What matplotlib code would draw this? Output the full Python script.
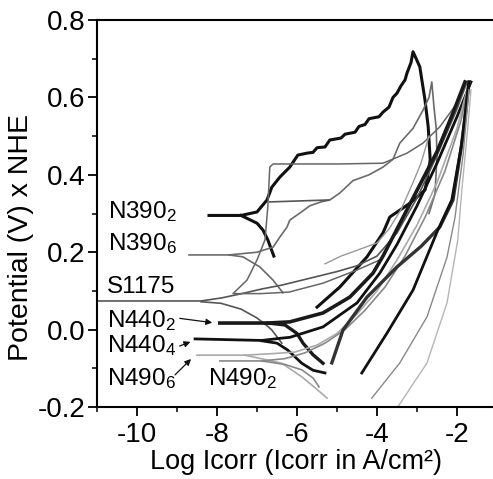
import matplotlib
matplotlib.use("Agg")
import matplotlib.pyplot as plt
from matplotlib.ticker import MultipleLocator

plt.rcParams["font.family"] = ["Liberation Sans", "DejaVu Sans"]
plt.rcParams["mathtext.fontset"] = "custom"
plt.rcParams["mathtext.rm"] = "Liberation Sans"
plt.rcParams["mathtext.it"] = "Liberation Sans:italic"

# --- curve data (log Icorr, potential V) ---
n390_2_x = [-8.2, -7.4, -7.0, -6.75, -6.63, -6.43, -6.18, -5.98, -5.75, -5.6, -5.5, -5.3,
            -5.18, -4.9, -4.8, -4.55, -4.45, -4.3, -4.2, -3.95, -3.85, -3.7, -3.6, -3.5,
            -3.4, -3.3, -3.25, -3.15, -3.1, -3.02, -2.93, -2.8, -2.72, -2.67, -2.75, -2.8,
            -3.17, -3.68, -3.85, -4.25, -4.93, -5.5]
n390_2_y = [0.295, 0.295, 0.304, 0.335, 0.368, 0.394, 0.42, 0.451, 0.456, 0.458, 0.47, 0.472,
            0.49, 0.495, 0.505, 0.51, 0.525, 0.53, 0.545, 0.55, 0.562, 0.575, 0.60, 0.611,
            0.63, 0.645, 0.663, 0.69, 0.718, 0.70, 0.679, 0.593, 0.524, 0.438, 0.387, 0.361,
            0.327, 0.291, 0.25, 0.188, 0.11, 0.058]
n390_2_cx = [-7.4, -7.0, -6.85, -6.73, -6.58]
n390_2_cy = [0.295, 0.275, 0.257, 0.232, 0.19]

n390_6_x = [-8.7, -7.7, -7.0, -6.6, -6.43, -6.25, -6.18, -5.93, -5.68, -5.4, -5.18, -4.93,
            -4.6, -4.2, -3.85, -3.6, -3.43, -3.1, -2.85, -2.7, -2.63, -2.58, -2.52, -2.5,
            -2.55, -2.7]
n390_6_y = [0.193, 0.193, 0.20, 0.213, 0.239, 0.265, 0.283, 0.301, 0.32, 0.33, 0.335, 0.353,
            0.385, 0.40, 0.42, 0.44, 0.482, 0.52, 0.567, 0.60, 0.64, 0.58, 0.52, 0.45,
            0.35, 0.30]
n390_6_cx = [-7.7, -7.35, -6.93, -6.6, -6.35]
n390_6_cy = [0.193, 0.188, 0.162, 0.128, 0.095]
step_x = [-6.68, -5.2]
step_y = [0.33, 0.335]

s1175_x = [-11.0, -8.4, -7.88, -7.38, -6.88, -6.38, -5.55, -5.0, -4.5, -4.0, -3.5, -3.0,
           -2.5, -2.0, -1.75]
s1175_y = [0.074, 0.074, 0.082, 0.093, 0.105, 0.115, 0.136, 0.15, 0.165, 0.19, 0.25, 0.34,
           0.45, 0.57, 0.64]
s1175_cx = [-8.4, -7.9, -7.4, -7.0, -6.75, -6.63, -6.38]
s1175_cy = [0.072, 0.068, 0.053, 0.03, 0.01, -0.001, -0.035]

jump_x = [-3.93, -4.5, -5.35, -6.2, -6.9, -7.6, -7.25, -7.0, -6.8, -6.73, -6.68, -6.6,
          -5.0, -3.85, -3.25, -2.85, -2.43, -2.0, -1.75]
jump_y = [0.18, 0.154, 0.12, 0.097, 0.093, 0.093, 0.128, 0.18, 0.232, 0.317, 0.42, 0.428,
          0.428, 0.43, 0.456, 0.482, 0.524, 0.585, 0.637]

n440_2_x = [-7.93, -6.73, -6.18, -5.35, -4.68, -4.1, -3.85, -3.4, -3.0, -2.5, -2.1, -1.8]
n440_2_y = [0.017, 0.017, 0.02, 0.043, 0.084, 0.146, 0.19, 0.28, 0.36, 0.46, 0.56, 0.64]
n440_2_cx = [-6.73, -6.3, -6.0, -5.85, -5.6, -5.35]
n440_2_cy = [0.017, 0.012, -0.01, -0.035, -0.065, -0.087]

n440_4_x = [-8.55, -6.88, -6.38, -6.18, -5.35, -4.5, -3.93, -3.5, -3.0, -2.5, -2.0, -1.65]
n440_4_y = [-0.024, -0.028, -0.022, -0.02, 0.007, 0.069, 0.146, 0.22, 0.32, 0.43, 0.55, 0.64]
n440_4_cx = [-6.88, -6.5, -6.23, -5.88, -5.6, -5.3]
n440_4_cy = [-0.029, -0.035, -0.053, -0.087, -0.105, -0.112]

n490_6_x = [-8.5, -7.3, -6.6, -6.05, -5.5, -5.0, -4.5, -4.0, -3.5, -3.0, -2.5, -2.0, -1.7]
n490_6_y = [-0.066, -0.066, -0.062, -0.058, -0.04, -0.01, 0.04, 0.10, 0.18, 0.27, 0.38, 0.52, 0.64]
n490_6_cx = [-7.3, -6.38, -5.88, -5.55, -5.25]
n490_6_cy = [-0.066, -0.087, -0.122, -0.15, -0.177]

n490_2_x = [-7.93, -6.88, -6.3, -5.8, -5.3, -4.8, -4.3, -3.8, -3.3, -2.8, -2.3, -1.9, -1.7]
n490_2_y = [-0.081, -0.081, -0.075, -0.06, -0.035, 0.0, 0.05, 0.11, 0.19, 0.29, 0.41, 0.54, 0.64]
n490_2_cx = [-6.88, -6.3, -5.88, -5.6, -5.45]
n490_2_cy = [-0.081, -0.09, -0.104, -0.125, -0.148]

a1_x = [-5.13, -4.85, -4.25, -3.5, -2.9, -2.43, -2.1, -1.85, -1.7]
a1_y = [-0.086, -0.001, 0.084, 0.162, 0.215, 0.265, 0.335, 0.5, 0.64]
a2_x = [-4.38, -3.75, -3.1, -2.48, -2.13, -1.9, -1.7]
a2_y = [-0.112, -0.009, 0.102, 0.257, 0.335, 0.47, 0.64]
a3_x = [-4.13, -3.43, -2.75, -2.25, -2.05, -1.85, -1.7]
a3_y = [-0.177, -0.086, 0.033, 0.187, 0.29, 0.45, 0.62]
a4_x = [-3.5, -2.75, -2.25, -1.98, -1.88, -1.75, -1.65]
a4_y = [-0.203, -0.086, 0.069, 0.232, 0.36, 0.5, 0.62]
a5_x = [-5.3, -4.9, -4.5, -4.0, -3.7, -3.4, -3.1, -2.9, -2.7]
a5_y = [0.17, 0.19, 0.205, 0.224, 0.26, 0.31, 0.38, 0.43, 0.5]

labels = ["N390$_2$", "N390$_6$", "S1175", "N440$_2$", "N440$_4$", "N490$_6$", "N490$_2$"]
label_x = [-10.73, -10.73, -10.75, -10.75, -10.75, -10.75, -8.23]
label_y = [0.288, 0.206, 0.095, 0.007, -0.058, -0.143, -0.143]

fig = plt.figure(figsize=(4.93, 4.79), dpi=100)
ax = fig.add_axes([0.1968, 0.1503, 0.8032, 0.8079])

series = [
    (n390_2_x, n390_2_y, "#111111", 2.2), (n390_2_cx, n390_2_cy, "#111111", 2.2),
    (n390_6_x, n390_6_y, "#6a6a6a", 1.2), (n390_6_cx, n390_6_cy, "#6a6a6a", 1.2),
    (step_x, step_y, "#555555", 1.2),
    (s1175_x, s1175_y, "#555555", 1.2), (s1175_cx, s1175_cy, "#555555", 1.2),
    (jump_x, jump_y, "#666666", 1.1),
    (n440_2_x, n440_2_y, "#1a1a1a", 2.6), (n440_2_cx, n440_2_cy, "#1a1a1a", 2.4),
    (n440_4_x, n440_4_y, "#111111", 2.0), (n440_4_cx, n440_4_cy, "#111111", 2.0),
    (n490_6_x, n490_6_y, "#aaaaaa", 1.2), (n490_6_cx, n490_6_cy, "#aaaaaa", 1.2),
    (n490_2_x, n490_2_y, "#888888", 1.2), (n490_2_cx, n490_2_cy, "#888888", 1.2),
    (a1_x, a1_y, "#333333", 2.4), (a2_x, a2_y, "#111111", 2.0),
    (a3_x, a3_y, "#888888", 1.0), (a4_x, a4_y, "#b5b5b5", 1.0),
    (a5_x, a5_y, "#999999", 1.0),
]
for xs, ys, col, lw in series:
    ax.plot(xs, ys, color=col, linewidth=lw, solid_joinstyle="round")

for text, tx, ty in zip(labels, label_x, label_y):
    ax.text(tx, ty, text, fontsize=17.5, va="baseline", ha="left")

arrow_style = dict(arrowstyle="-|>", color="#111111", lw=0.9, mutation_scale=9)
ax.annotate("", xy=(-8.05, 0.017), xytext=(-9.0, 0.03), arrowprops=arrow_style)
ax.annotate("", xy=(-8.6, -0.029), xytext=(-9.0, -0.045), arrowprops=arrow_style)
ax.annotate("", xy=(-8.6, -0.071), xytext=(-9.1, -0.122), arrowprops=arrow_style)

ax.set_xlim(-11, -1.1)
ax.set_ylim(-0.2, 0.8)
ax.xaxis.set_major_locator(MultipleLocator(2))
ax.xaxis.set_minor_locator(MultipleLocator(1))
ax.yaxis.set_major_locator(MultipleLocator(0.2))
ax.yaxis.set_minor_locator(MultipleLocator(0.1))
ax.xaxis.set_major_formatter(plt.FuncFormatter(lambda v, p: f"{v:.0f}"))
ax.yaxis.set_major_formatter(plt.FuncFormatter(lambda v, p: f"{v:.1f}"))
ax.tick_params(which="major", direction="out", length=6.5, width=1.3, labelsize=20)
ax.tick_params(which="minor", direction="out", length=3.5, width=1.1)
ax.tick_params(axis="x", which="major", pad=4)
ax.tick_params(axis="y", which="major", pad=2)
for side in ["left", "top", "bottom"]:
    ax.spines[side].set_linewidth(1.5)
ax.spines["right"].set_linewidth(0.8)
ax.spines["right"].set_color("#bbbbbb")

ax.set_xlabel("Log Icorr (Icorr in A/cm²)", fontsize=19.5)
ax.set_ylabel("Potential (V) x NHE", fontsize=20.5)
ax.xaxis.set_label_coords(0.503, -0.109)
ax.yaxis.set_label_coords(-0.16, 0.437)

fig.savefig("out.png", dpi=100)
